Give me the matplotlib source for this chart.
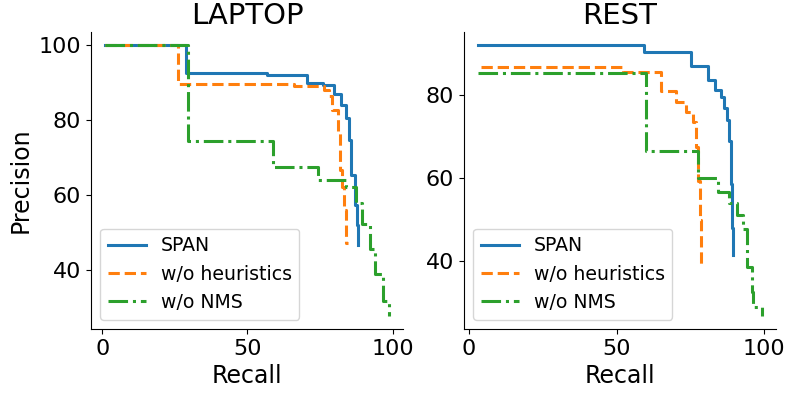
import matplotlib
matplotlib.use("Agg")
import matplotlib.pyplot as plt

# LAPTOP precision / recall (step curves)
laptop_span_r = [1, 28.8, 56.7, 70.6, 76.2, 79.9, 82.1, 84.1, 85.1, 85.8, 87.0, 87.6, 88.2]
laptop_span_p = [100, 92.7, 92.2, 89.9, 89.3, 87.0, 84.0, 80.5, 74.7, 65.3, 57.3, 51.9, 46.5]
laptop_heur_r = [1, 26.2, 66.0, 76.3, 78.2, 79.3, 81.1, 82.0, 82.5, 83.4, 84.0, 84.6]
laptop_heur_p = [100, 89.8, 89.2, 88.2, 86.4, 82.8, 76.5, 66.7, 62.2, 55.9, 47.0, 47.0]
laptop_nms_r = [1, 29.7, 58.8, 74.4, 84.0, 87.5, 89.5, 92.1, 94.1, 96.6, 98.7]
laptop_nms_p = [100, 74.5, 67.4, 64.0, 62.0, 57.7, 52.3, 45.6, 38.9, 31.7, 27.7]

# REST precision / recall
rest_span_r = [3.1, 59.4, 75.1, 81.1, 83.4, 85.4, 86.4, 87.3, 88.2, 88.7, 89.0, 89.6]
rest_span_p = [91.9, 90.3, 86.9, 83.7, 81.2, 79.5, 76.9, 74.0, 68.8, 58.6, 48.0, 41.5]
rest_heur_r = [4.2, 52.3, 65.0, 70.0, 73.5, 76.0, 77.0, 77.6, 78.2, 78.6]
rest_heur_p = [86.7, 85.5, 80.9, 78.3, 75.9, 73.6, 67.4, 59.4, 50.0, 39.3]
rest_nms_r = [3.1, 60.0, 77.7, 84.5, 88.2, 90.7, 93.0, 94.3, 95.8, 96.4, 99.2]
rest_nms_p = [85.3, 66.6, 60.0, 56.7, 53.9, 51.0, 47.8, 38.5, 32.5, 28.9, 26.9]

labels = ["SPAN", "w/o heuristics", "w/o NMS"]
styles = ["-", "--", "-."]
colors = ["#1f77b4", "#ff7f0e", "#2ca02c"]

fig = plt.figure(figsize=(7.89, 3.95), dpi=100)
ax1 = fig.add_axes([0.1153, 0.167, 0.3954, 0.752])
ax2 = fig.add_axes([0.588, 0.167, 0.3954, 0.752])

panels = [
    (ax1, "LAPTOP", [(laptop_span_r, laptop_span_p), (laptop_heur_r, laptop_heur_p), (laptop_nms_r, laptop_nms_p)]),
    (ax2, "REST", [(rest_span_r, rest_span_p), (rest_heur_r, rest_heur_p), (rest_nms_r, rest_nms_p)]),
]

for ax, title, series in panels:
    for (r, p), lab, ls, c in zip(series, labels, styles, colors):
        ax.plot(r, p, ls, color=c, lw=2.2, label=lab, drawstyle="steps-post")
    ax.set_title(title, fontsize=21)
    ax.set_xlabel("Recall", fontsize=17)
    ax.spines["top"].set_visible(False)
    ax.spines["right"].set_visible(False)
    ax.tick_params(labelsize=16)
    ax.set_xticks([0, 50, 100])
    ax.legend(loc="lower left", fontsize=13.6)

ax1.set_ylabel("Precision", fontsize=17)
ax1.set_yticks([40, 60, 80, 100])
ax2.set_yticks([40, 60, 80])

fig.savefig("out.png", dpi=100)
